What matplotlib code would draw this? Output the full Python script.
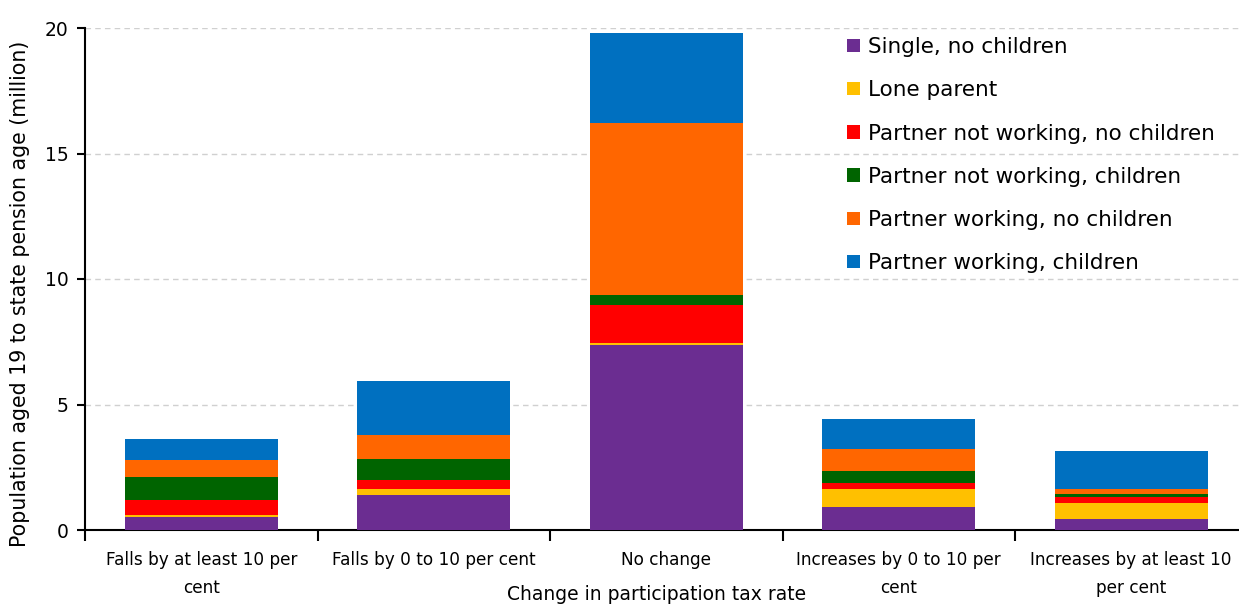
import matplotlib
matplotlib.use("Agg")
import matplotlib.pyplot as plt
import numpy as np

categories = ["Falls by at least 10 per\ncent", "Falls by 0 to 10 per cent", "No change",
              "Increases by 0 to 10 per\ncent", "Increases by at least 10\nper cent"]
series_names = ["Single, no children", "Lone parent", "Partner not working, no children",
                "Partner not working, children", "Partner working, no children",
                "Partner working, children"]
single_no_children = [0.53, 1.41, 7.38, 0.92, 0.44]
lone_parent = [0.08, 0.24, 0.08, 0.73, 0.65]
partner_not_working_no_children = [0.57, 0.33, 1.52, 0.23, 0.24]
partner_not_working_children = [0.94, 0.86, 0.38, 0.48, 0.09]
partner_working_no_children = [0.65, 0.96, 6.84, 0.88, 0.21]
partner_working_children = [0.86, 2.15, 3.60, 1.19, 1.53]
colors = ["#6B2D91", "#FFC000", "#FF0000", "#006400", "#FF6600", "#0070C0"]

series = [single_no_children, lone_parent, partner_not_working_no_children,
          partner_not_working_children, partner_working_no_children, partner_working_children]

plt.rcParams['font.family'] = ['DejaVu Sans']
fig = plt.figure(figsize=(12.39, 6.04), dpi=100)
ax = fig.add_axes([85/1239, 74/604, 1162.5/1239, 502/604])

x = np.arange(len(categories)) + 0.5
bottom = np.zeros(len(categories))
for name, vals, c in zip(series_names, series, colors):
    ax.bar(x, vals, 0.66, bottom=bottom, color=c, label=name, zorder=3)
    bottom += np.array(vals)

ax.set_xlim(0, 5)
ax.set_ylim(0, 20)
ax.set_yticks([0, 5, 10, 15, 20])
ax.yaxis.grid(True, linestyle=(0, (4, 3)), color="#D0D0D0", linewidth=1, zorder=0)
ax.set_axisbelow(True)
for s in ["top", "right"]:
    ax.spines[s].set_visible(False)
ax.spines["left"].set_linewidth(1.5)
ax.spines["bottom"].set_linewidth(1.5)

ax.set_xticks(x)
ax.set_xticklabels(categories, fontsize=12.2, linespacing=1.75)
ax.set_xticks(np.arange(0, 5), minor=True)
ax.tick_params(axis="x", which="major", length=0, pad=15)
ax.tick_params(axis="x", which="minor", length=8, width=1.5, direction="out")
ax.tick_params(axis="y", length=6, width=1.5, labelsize=13.5, pad=6)

fig.text(20/1239, 1 - 294/604, "Population aged 19 to state pension age (million)",
         rotation=90, ha="center", va="center", fontsize=14.8)
fig.text(657/1239, 1 - 595/604, "Change in participation tax rate",
         ha="center", va="center", fontsize=13.5)

leg = ax.legend(loc="upper left", frameon=False, fontsize=15.5,
                handlelength=0.6, handleheight=0.6, handletextpad=0.37,
                labelspacing=1.08, borderaxespad=0, borderpad=0)
leg.set_bbox_to_anchor((847/1239, 1 - 37/604), transform=fig.transFigure)

fig.savefig("out.png", dpi=100)
